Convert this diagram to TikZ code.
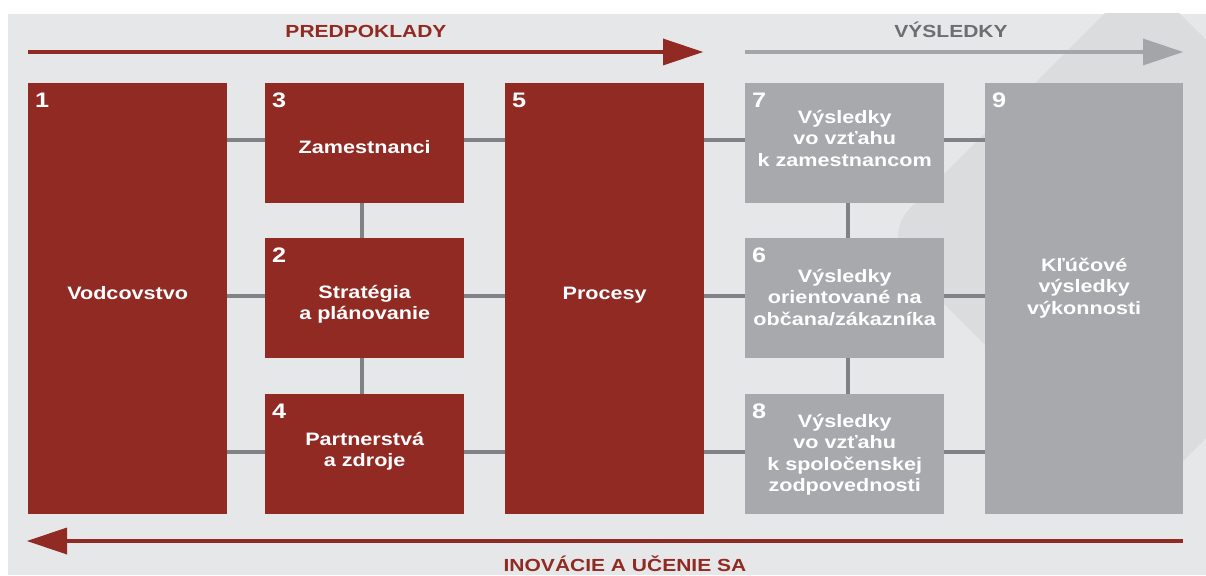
\documentclass[tikz,border=0pt]{standalone}
\usepackage{fontspec}
\setmainfont{Liberation Sans}
\newfontfamily\wfont[FakeStretch=1.2]{Liberation Sans}
\usetikzlibrary{arrows.meta}
\definecolor{bgc}{HTML}{E6E7E8}
\definecolor{decoc}{HTML}{DBDCDE}
\definecolor{redc}{HTML}{922A24}
\definecolor{grayc}{HTML}{A7A9AC}
\definecolor{linec}{HTML}{808285}
\definecolor{titlegray}{HTML}{6D6E71}
\definecolor{arrowgray}{HTML}{A3A5A8}
\begin{document}
\begin{tikzpicture}[x=1pt,y=-1pt,
  redbox/.style={fill=redc, draw=none, inner sep=0pt, anchor=north west},
  graybox/.style={fill=grayc, draw=none, inner sep=0pt, anchor=north west},
  smallbox/.style={minimum width=199pt, minimum height=120pt},
  tallbox/.style={minimum width=199pt, minimum height=431pt},
  lbl/.style={text=white, font=\wfont\bfseries\fontsize{18}{21.5}\selectfont, align=center, inner sep=0pt, anchor=base},
  num/.style={text=white, font=\wfont\bfseries\fontsize{21}{21}\selectfont, anchor=base west, inner sep=0pt},
  conn/.style={draw=linec, line width=4.5pt},
  ttl/.style={font=\wfont\bfseries\fontsize{17.5}{17.5}\selectfont, anchor=base, inner sep=0pt},
  bigarrow/.style={line width=4pt, -{Triangle[length=40pt,width=27pt,line width=0pt]}}
]
\useasboundingbox (0,0) rectangle (1206,575);
\fill[white] (0,0) rectangle (1206,575);
\fill[bgc] (8,14) rectangle (1206,575);
% faint background decoration
\begin{scope}
\clip (8,14) rectangle (1206,575);
\fill[decoc, rounded corners=45pt] (1142,-24) -- (1405,239) -- (1142,502) -- (879,239) -- cycle;
\end{scope}

% arrows
\coordinate (pa) at (28,52);
\coordinate (pb) at (703,52);
\coordinate (va) at (745,52);
\coordinate (vb) at (1183,52);
\coordinate (ia) at (1183,541);
\coordinate (ib) at (27,541);
\draw[bigarrow, redc] (pa) -- (pb);
\draw[bigarrow, arrowgray] (va) -- (vb);
\draw[bigarrow, redc] (ia) -- (ib);
\node[ttl, text=redc] (tp) at (366,38) {PREDPOKLADY};
\node[ttl, text=titlegray] (tv) at (951,38) {VÝSLEDKY};
\node[ttl, text=redc] (ti) at (625,571) {INOVÁCIE A UČENIE SA};

% boxes
\node[redbox, tallbox] (b1) at (28,83) {};
\node[redbox, smallbox] (b3) at (265,83) {};
\node[redbox, smallbox] (b2) at (265,238) {};
\node[redbox, smallbox] (b4) at (265,394) {};
\node[redbox, tallbox] (b5) at (505,83) {};
\node[graybox, smallbox] (b7) at (745,83) {};
\node[graybox, smallbox] (b6) at (745,238) {};
\node[graybox, smallbox] (b8) at (745,394) {};
\node[graybox, tallbox, minimum width=198pt] (b9) at (985,83) {};

% connectors
\draw[conn] ([yshift=3pt]b3.west -| b1.east) -- ([yshift=3pt]b3.west);
\draw[conn] ([yshift=3pt]b3.east) -- ([yshift=3pt]b3.east -| b5.west);
\draw[conn] ([yshift=3pt]b7.west -| b5.east) -- ([yshift=3pt]b7.west);
\draw[conn] ([yshift=3pt]b7.east) -- ([yshift=3pt]b7.east -| b9.west);
\draw[conn] ([yshift=2pt]b2.west -| b1.east) -- ([yshift=2pt]b2.west);
\draw[conn] ([yshift=2pt]b2.east) -- ([yshift=2pt]b2.east -| b5.west);
\draw[conn] ([yshift=2pt]b6.west -| b5.east) -- ([yshift=2pt]b6.west);
\draw[conn] ([yshift=2pt]b6.east) -- ([yshift=2pt]b6.east -| b9.west);
\draw[conn] ([yshift=2pt]b4.west -| b1.east) -- ([yshift=2pt]b4.west);
\draw[conn] ([yshift=2pt]b4.east) -- ([yshift=2pt]b4.east -| b5.west);
\draw[conn] ([yshift=2pt]b8.west -| b5.east) -- ([yshift=2pt]b8.west);
\draw[conn] ([yshift=2pt]b8.east) -- ([yshift=2pt]b8.east -| b9.west);
\draw[conn] ([xshift=-2.5pt]b3.south) -- ([xshift=-2.5pt]b2.north);
\draw[conn] ([xshift=-2.5pt]b2.south) -- ([xshift=-2.5pt]b4.north);
\draw[conn] ([xshift=3.5pt]b7.south) -- ([xshift=3.5pt]b6.north);
\draw[conn] ([xshift=3.5pt]b6.south) -- ([xshift=3.5pt]b8.north);

% numbers
\foreach \b/\n in {b1/1,b3/3,b2/2,b4/4,b5/5,b7/7,b6/6,b8/8,b9/9}{
  \node[num] (n\n) at ([xshift=7pt,yshift=-24pt]\b.north west) {\n};
}

% labels (anchor base = baseline of the last line)
\node[lbl] (t1) at ([yshift=-216pt]b1.north) {Vodcovstvo};
\node[lbl] (t3) at ([yshift=-70pt]b3.north) {Zamestnanci};
\node[lbl] (t2) at ([yshift=-81.5pt]b2.north) {Stratégia\\a plánovanie};
\node[lbl] (t4) at ([yshift=-72.5pt]b4.north) {Partnerstvá\\a zdroje};
\node[lbl] (t5) at ([yshift=-216pt]b5.north) {Procesy};
\node[lbl] (t7) at ([yshift=-83pt]b7.north) {Výsledky\\vo vzťahu\\k zamestnancom};
\node[lbl] (t6) at ([yshift=-87pt]b6.north) {Výsledky\\orientované na\\občana/zákazníka};
\node[lbl] (t8) at ([yshift=-97.5pt]b8.north) {Výsledky\\vo vzťahu\\k spoločenskej\\zodpovednosti};
\node[lbl] (t9) at ([yshift=-231pt]b9.north) {Kľúčové\\výsledky\\výkonnosti};
\end{tikzpicture}
\end{document}
